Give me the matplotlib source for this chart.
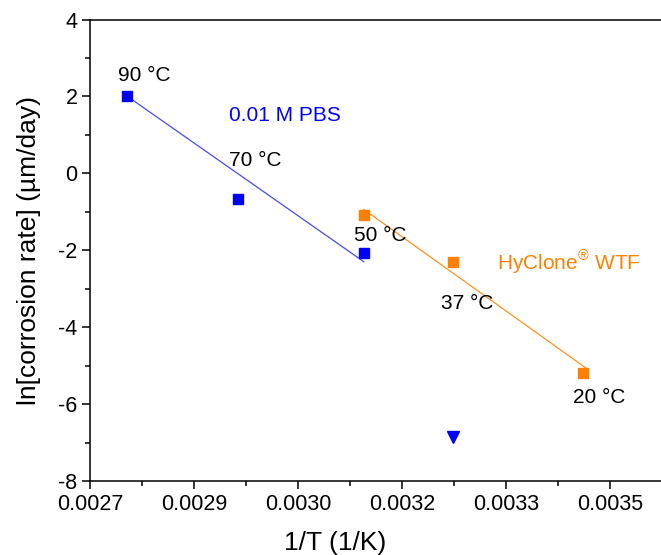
import matplotlib
matplotlib.use("Agg")
import matplotlib.pyplot as plt
from matplotlib.ticker import FixedLocator, MultipleLocator

plt.rcParams['font.family'] = ['Liberation Sans', 'DejaVu Sans']
plt.rcParams['mathtext.fontset'] = 'custom'
plt.rcParams['mathtext.rm'] = 'Liberation Sans'
plt.rcParams['axes.unicode_minus'] = False

# 0.01 M PBS (90, 70, 50 °C)
pbs_x = [0.002754, 0.002914, 0.003095]
pbs_y = [2.01, -0.68, -2.07]
pbs_fit_x = [0.002754, 0.003095]
pbs_fit_y = [2.0, -2.30]

# HyClone WTF (50, 37, 20 °C)
wtf_x = [0.003095, 0.003224, 0.003411]
wtf_y = [-1.08, -2.30, -5.19]
wtf_fit_x = [0.003095, 0.003416]
wtf_fit_y = [-0.94, -5.07]

# extra point (triangle)
tri_x = [0.003224]
tri_y = [-6.85]

xticks = [0.0027, 0.00285, 0.0030, 0.00315, 0.0033, 0.00345]
xticklabels = ["0.0027", "0.0029", "0.0030", "0.0032", "0.0033", "0.0035"]

blue = "#0000ff"
orange = "#ff8000"

fig = plt.figure(figsize=(6.61, 5.55), dpi=100)
ax = fig.add_axes([90/661, 1-481/555, 580/661, (481-19.5)/555])

ax.plot(pbs_fit_x, pbs_fit_y, color="#4a4af0", lw=0.9, zorder=2)
ax.plot(wtf_fit_x, wtf_fit_y, color="#ff9020", lw=0.9, zorder=2)
ax.plot(pbs_x, pbs_y, ls="none", marker="s", ms=7, color=blue, zorder=3)
ax.plot(wtf_x, wtf_y, ls="none", marker="s", ms=7, color=orange, zorder=3)
ax.plot(tri_x, tri_y, ls="none", marker="v", ms=8, color=blue, zorder=3)

ax.set_xlim(0.0027, 0.0027 + 580/693333)
ax.set_ylim(-8, 4)

ax.xaxis.set_major_locator(FixedLocator(xticks))
ax.set_xticklabels(xticklabels)
ax.xaxis.set_minor_locator(MultipleLocator(0.000075))
ax.yaxis.set_major_locator(MultipleLocator(2))
ax.yaxis.set_minor_locator(MultipleLocator(1))
ax.tick_params(which="both", direction="out", top=False, right=False,
               width=1.1, labelsize=15.5)
ax.tick_params(which="major", length=6, pad=3)
ax.tick_params(which="minor", length=3.5)
for s in ax.spines.values():
    s.set_linewidth(1.1)
ax.spines["right"].set_visible(False)

fs = 15
ax.text(0.002778, 2.545, "90 °C", fontsize=fs, ha="center", va="center")
ax.text(0.002938, 0.338, "70 °C", fontsize=fs, ha="center", va="center")
ax.text(0.003118, -1.61, "50 °C", fontsize=fs, ha="center", va="center")
ax.text(0.003244, -3.38, "37 °C", fontsize=fs, ha="center", va="center")
ax.text(0.003434, -5.84, "20 °C", fontsize=fs, ha="center", va="center")
ax.text(0.002981, 1.51, "0.01 M PBS", fontsize=fs, color=blue, ha="center", va="center")
ax.text(0.003391, -2.30, "HyClone$^{\\mathrm{®}}$ WTF", fontsize=fs, color=orange,
        ha="center", va="center")

ax.set_xlabel("1/T (1/K)", fontsize=19, va="center")
ax.set_ylabel("ln[corrosion rate] (µm/day)", fontsize=19, va="center")
ax.xaxis.set_label_coords(0.4224, -0.134)
ax.yaxis.set_label_coords(-0.105, 0.5)

fig.savefig("out.png", dpi=100)
